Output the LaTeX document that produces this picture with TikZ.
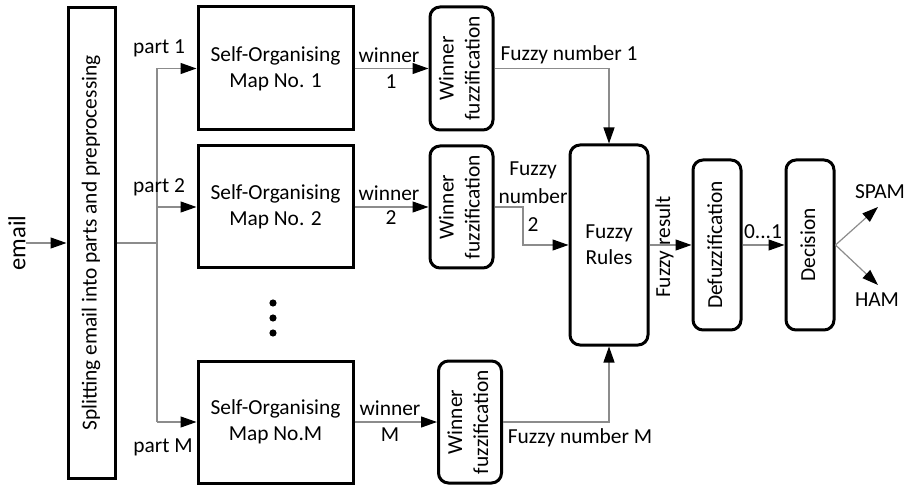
\documentclass[tikz,border=0pt]{standalone}
\usepackage{fontspec}
\setmainfont{Carlito}
\usepackage{graphicx}
\usetikzlibrary{arrows.meta}
% vertical (rotated) text, one or more lines
\newcommand{\vtext}[1]{\rotatebox{90}{\begin{tabular}{@{}c@{}}#1\end{tabular}}}

\begin{document}
\begin{tikzpicture}[x=0.5pt, y=-0.5pt, font=\fontsize{10.7}{13}\selectfont,
    blk/.style={draw, line width=1.5pt, inner sep=0pt, align=center},
    rblk/.style={blk, rounded corners=5pt},
    wire/.style={draw=black!45, line width=0.6pt},
    link/.style={wire, -{Triangle[black, length=8pt, width=5.5pt]}},
    lbl/.style={inner sep=0pt, align=center}]
  \useasboundingbox (0,0) rectangle (905,486);
  % input and splitting
  \node[lbl, font=\fontsize{12.3}{14}\selectfont] (email) at (17,243) {\rotatebox{90}{email}};
  \node[blk, minimum width=23.5pt, minimum height=235.5pt] (split) at (91.5,243)
    {\vtext{Splitting email into parts and preprocessing}};
  \draw[link] (email.east) -- (split.west);
  % self-organising maps
  \node[blk, minimum width=77.5pt, minimum height=61.5pt] (som1) at (275.5,68.5) {Self-Organising\\Map No. 1};
  \node[blk, minimum width=77.5pt, minimum height=61pt] (som2) at (275.5,207) {Self-Organising\\Map No. 2};
  \node[blk, minimum width=77.5pt, minimum height=61pt] (somM) at (275.5,422) {Self-Organising\\Map No.M};
  \foreach \y in {303,318,333}
    \fill (273,\y) circle (1.8pt);
  \coordinate (fork) at (157,243);
  \draw[wire] (split.east) -- (fork);
  \draw[wire] (fork |- som1) -- (fork |- somM);
  \foreach \s in {som1,som2,somM}
    \draw[link] (fork |- \s) -- (\s.west);
  \node[lbl] (part1) at (159,48) {part 1};
  \node[lbl] (part2) at (159,187) {part 2};
  \node[lbl] (partM) at (163,447) {part M};
  % winner fuzzification
  \node[rblk, minimum width=31.5pt, minimum height=61.5pt] (wf1) at (461.5,68.5) {\vtext{Winner\\fuzzification}};
  \node[rblk, minimum width=31.5pt, minimum height=61pt] (wf2) at (461.5,207) {\vtext{Winner\\fuzzification}};
  \node[rblk, minimum width=31.5pt, minimum height=61pt] (wfM) at (470,422) {\vtext{Winner\\fuzzification}};
  \draw[link] (som1.east) -- (wf1.west);
  \draw[link] (som2.east) -- (wf2.west);
  \draw[link] (somM.east) -- (wfM.west);
  \node[lbl] (win1) at (389,55) {winner};
  \node[lbl] (win1n) at (391,82) {1};
  \node[lbl] (win2) at (389,193) {winner};
  \node[lbl] (win2n) at (391,218) {2};
  \node[lbl] (winM) at (390,408) {winner};
  \node[lbl] (winMn) at (390,435) {M};
  % fuzzy rules
  \node[rblk, minimum width=39pt, minimum height=100pt] (rules) at (609,245) {Fuzzy\\Rules};
  \coordinate (f2bend) at (523,245);
  \draw[link] (wf1.east) -| (rules.north);
  \draw[link] (wf2.east) -| (f2bend) -- (rules.west);
  \draw[link] (wfM.east) -| (rules.south);
  \node[lbl] (fn1) at (569,55) {Fuzzy number 1};
  \node[lbl] (fn2) at (533,197) {Fuzzy\\[1pt]number\\[1pt]2};
  \node[lbl] (fnM) at (580,438) {Fuzzy number M};
  % defuzzification and decision
  \node[rblk, minimum width=24pt, minimum height=85pt] (defuzz) at (717,245) {\vtext{Defuzzification}};
  \node[rblk, minimum width=24pt, minimum height=85pt] (decision) at (810,245) {\vtext{Decision}};
  \draw[link] (rules.east) -- (defuzz.west);
  \draw[link] (defuzz.east) -- (decision.west);
  \node[lbl] (fres) at (665,247) {\vtext{Fuzzy result}};
  \node[lbl] (range) at (763,232) {0...1};
  \coordinate (spamtip) at (878,207);
  \coordinate (hamtip) at (878,285);
  \draw[link] (decision.east) -- (spamtip);
  \draw[link] (decision.east) -- (hamtip);
  \node[lbl] (spam) at (880,192) {SPAM};
  \node[lbl] (ham) at (877,300) {HAM};
\end{tikzpicture}
\end{document}
